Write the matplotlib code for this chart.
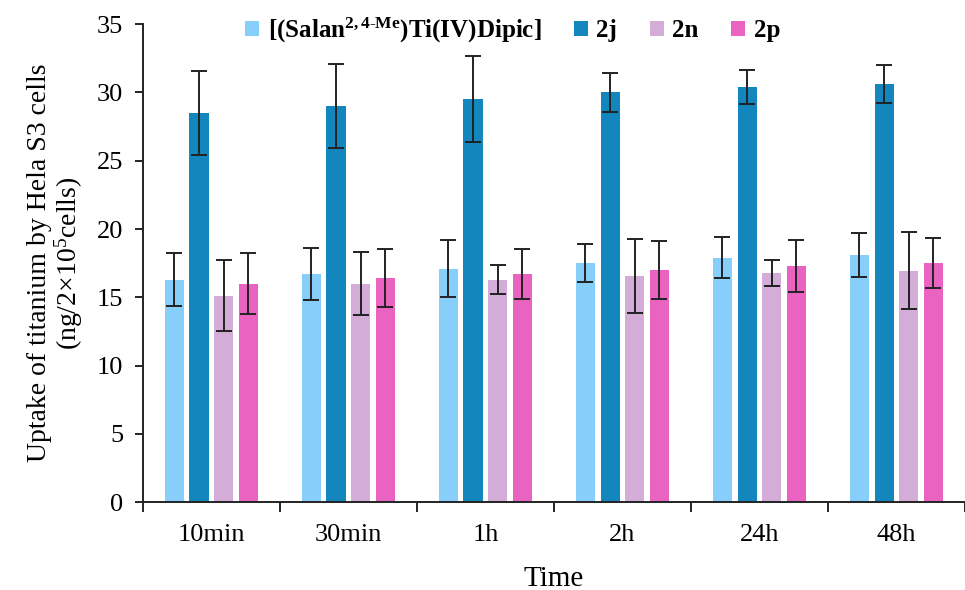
import matplotlib
matplotlib.use("Agg")
import matplotlib.pyplot as plt
import numpy as np

plt.rcParams['font.family'] = ['Liberation Serif', 'DejaVu Serif']
plt.rcParams['mathtext.fontset'] = 'custom'
plt.rcParams['mathtext.rm'] = 'Liberation Serif'
plt.rcParams['mathtext.it'] = 'Liberation Serif:italic'
plt.rcParams['mathtext.bf'] = 'Liberation Serif:bold'

times = ['10min', '30min', '1h', '2h', '24h', '48h']
series = [r'[(Salan$^{\mathbf{2,4\text{-}Me}}$)Ti(IV)Dipic]', '2j', '2n', '2p']

salan = [16.3, 16.7, 17.1, 17.5, 17.9, 18.1]
salan_err = [1.95, 1.9, 2.1, 1.4, 1.5, 1.6]
v2j = [28.5, 29.0, 29.5, 30.0, 30.4, 30.6]
v2j_err = [3.1, 3.1, 3.15, 1.45, 1.25, 1.4]
v2n = [15.1, 16.0, 16.3, 16.55, 16.8, 16.95]
v2n_err = [2.6, 2.3, 1.05, 2.7, 0.95, 2.8]
v2p = [16.0, 16.4, 16.7, 17.0, 17.3, 17.5]
v2p_err = [2.25, 2.1, 1.85, 2.1, 1.9, 1.85]

colors = ['#87CEFA', '#1386BD', '#D4ACD8', '#EB63C1']

fig = plt.figure(figsize=(9.65, 5.9), dpi=100)
ax = fig.add_axes([0.148, 0.149, 0.852, 0.810])

x = np.arange(len(times))
width = 0.14
step = 0.18
vals = [salan, v2j, v2n, v2p]
errs = [salan_err, v2j_err, v2n_err, v2p_err]
for i, (v, e) in enumerate(zip(vals, errs)):
    pos = x + (i - 1.5) * step
    ax.bar(pos, v, width=width, color=colors[i], label=series[i], zorder=2)
    ax.errorbar(pos, v, yerr=e, fmt='none', ecolor='#222222', elinewidth=1.4,
                capsize=6, capthick=1.4, zorder=3)

ax.set_ylim(0, 35)
ax.set_yticks(range(0, 36, 5))
ax.set_xlim(-0.5, 5.457)
ax.set_xticks(x)
ax.set_xticklabels(times, fontsize=19)
ax.set_xticks(np.arange(-0.5, 6, 1), minor=True)
ax.tick_params(axis='x', which='major', length=0, pad=16)
ax.tick_params(axis='x', which='minor', length=7, width=1.2, direction='out')
ax.tick_params(axis='y', labelsize=19, length=6, width=1.2, direction='out', pad=8)

for s in ['top', 'right']:
    ax.spines[s].set_visible(False)
for s in ['left', 'bottom']:
    ax.spines[s].set_linewidth(1.4)
    ax.spines[s].set_color('#222222')

ax.set_ylabel('Uptake of titanium by Hela S3 cells\n(ng/2$\\times$10$^5$cells)', fontsize=20,
              labelpad=9, linespacing=1.0)
ax.set_xlabel('Time', fontsize=21, labelpad=14)

leg = ax.legend(ncol=4, loc='upper center', bbox_to_anchor=(0.45, 1.065), frameon=False,
                prop={'weight': 'bold', 'size': 18}, handlelength=0.55, handleheight=0.55,
                columnspacing=1.3, handletextpad=0.35)

fig.savefig('out.png', dpi=100)
